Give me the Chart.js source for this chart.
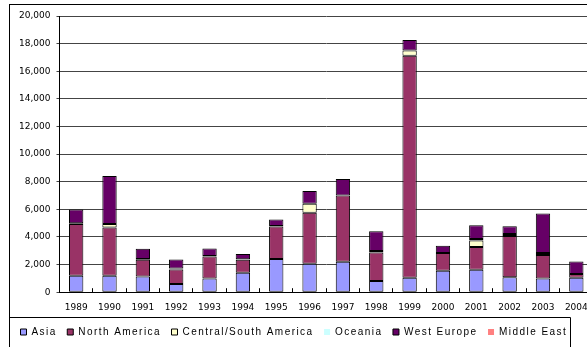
<!DOCTYPE html>
<html>
<head>
<meta charset="utf-8">
<script src="https://cdn.jsdelivr.net/npm/chart.js@4"></script>
<style>
  html, body { margin: 0; padding: 0; background: #fff; overflow: hidden; }
  #wrap { position: relative; width: 593px; height: 347px; }
</style>
</head>
<body>
<div id="wrap"><canvas id="chart" width="593" height="347"></canvas></div>
<script>
// years on the x axis
const years = ["1989", "1990", "1991", "1992", "1993", "1994", "1995", "1996",
  "1997", "1998", "1999", "2000", "2001", "2002", "2003", "2004"];

// stacked series
const asia         = [1200, 1200, 1140, 600, 990, 1400, 2400, 2060, 2200, 820, 1040, 1550, 1620, 1090, 990, 1040];
const northAmerica = [3730, 3490, 1210, 1040, 1600, 945, 2350, 3700, 4800, 2060, 16090, 1280, 1650, 2980, 1700, 280];
const centralSouth = [60, 240, 50, 80, 40, 40, 50, 650, 0, 100, 380, 0, 480, 140, 140, 0];
const oceania      = [0, 0, 0, 0, 0, 0, 0, 0, 0, 0, 0, 0, 100, 0, 0, 0];
const westEurope   = [1000, 3490, 740, 650, 530, 380, 460, 920, 1190, 1430, 750, 530, 1000, 560, 2860, 900];
const middleEast   = [0, 0, 0, 0, 0, 0, 0, 0, 0, 0, 0, 0, 0, 0, 0, 0];

const yTicks = [0, 2000, 4000, 6000, 8000, 10000, 12000, 14000, 16000, 18000, 20000];

function series(label, data, color) {
  return {
    label: label,
    data: data,
    backgroundColor: color,
    borderColor: "#000",
    borderWidth: ctx => (ctx.raw ? 1 : 0),
    borderSkipped: false,
    barPercentage: 0.43,
    categoryPercentage: 1
  };
}

// the legend text in the original is loosely spaced
const LEGEND_SPACING = "1.45px";
const spacedLegend = {
  id: "spacedLegend",
  afterInit(chart) {
    const lg = chart.legend;
    const ctx = chart.ctx;
    const fit = lg.fit.bind(lg);
    const draw = lg.draw.bind(lg);
    lg.fit = function () { ctx.letterSpacing = LEGEND_SPACING; fit(); ctx.letterSpacing = "0px"; };
    lg.draw = function () { ctx.letterSpacing = LEGEND_SPACING; draw(); ctx.letterSpacing = "0px"; };
  }
};

// frame around the chart and box around the legend
const framePlugin = {
  id: "frame",
  afterDraw(chart) {
    const ctx = chart.ctx;
    ctx.save();
    ctx.strokeStyle = "#000";
    ctx.lineWidth = 1;
    ctx.strokeRect(9.5, 4.5, chart.width + 20, chart.height + 20);
    const lg = chart.legend;
    const boxes = lg.legendHitBoxes;
    const last = boxes[boxes.length - 1];
    const right = Math.round(last.left + last.width + 3) + 0.5;
    const top = Math.round(lg.top) + 0.5;
    ctx.beginPath();
    ctx.moveTo(9.5, chart.height + 5);
    ctx.lineTo(9.5, top);
    ctx.lineTo(right, top);
    ctx.lineTo(right, chart.height + 5);
    ctx.stroke();
    ctx.restore();
  }
};

new Chart(document.getElementById("chart"), {
  type: "bar",
  data: {
    labels: years,
    datasets: [
      series("Asia", asia, "#9999FF"),
      series("North America", northAmerica, "#993366"),
      series("Central/South America", centralSouth, "#FFFFCC"),
      series("Oceania", oceania, "#CCFFFF"),
      series("West Europe", westEurope, "#660066"),
      series("Middle East", middleEast, "#FF8080")
    ]
  },
  options: {
    responsive: false,
    animation: false,
    devicePixelRatio: 1,
    layout: { padding: { left: 10, right: 0, top: 16, bottom: 0 } },
    plugins: {
      tooltip: { enabled: false },
      legend: {
        position: "bottom",
        align: "start",
        labels: {
          boxWidth: 6,
          boxHeight: 6,
          padding: 10.5,
          color: "#000",
          font: { family: "Liberation Sans", size: 10 }
        }
      }
    },
    scales: {
      x: {
        stacked: true,
        grid: {
          drawOnChartArea: false,
          drawTicks: true,
          tickLength: -4,
          color: "#000"
        },
        border: { color: "#000", width: 1 },
        ticks: {
          color: "#000",
          padding: 14,
          maxRotation: 0,
          autoSkip: false,
          font: { family: "DejaVu Sans", size: 9 }
        },
        afterFit(scale) {
          scale.height = 24.3;
          scale.paddingLeft = 0;
          scale.paddingRight = 0;
        }
      },
      y: {
        stacked: true,
        min: 0,
        max: 20000,
        afterBuildTicks(scale) { scale.ticks = yTicks.map(v => ({ value: v })); },
        grid: { color: "#444", tickLength: 3, drawTicks: true },
        border: { color: "#000", width: 1 },
        ticks: {
          color: "#000",
          padding: 6,
          font: { family: "DejaVu Sans", size: 9 },
          callback: v => v.toLocaleString("en-US")
        },
        afterFit(scale) { scale.width = 49.5; }
      }
    }
  },
  plugins: [spacedLegend, framePlugin]
});
</script>
</body>
</html>
